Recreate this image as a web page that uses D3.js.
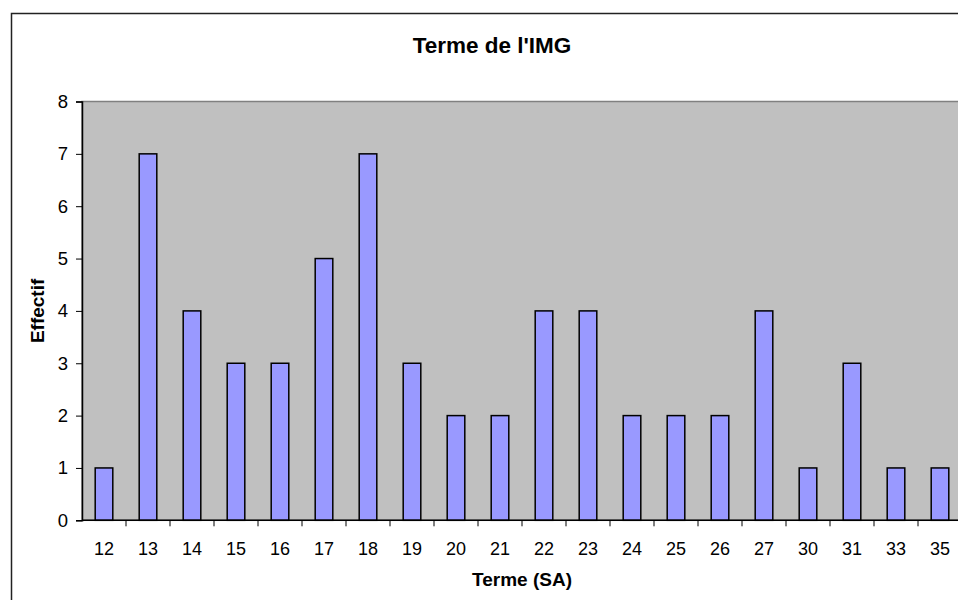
<!DOCTYPE html>
<html>
<head>
<meta charset="utf-8">
<script src="https://cdn.jsdelivr.net/npm/d3@7"></script>
<style>
  body { margin: 0; background: #fff; }
  svg { display: block; font-family: Arial, "Liberation Sans", sans-serif; }
</style>
</head>
<body>
<div id="chart"></div>
<script>
const categories = ["12", "13", "14", "15", "16", "17", "18", "19", "20", "21", "22", "23", "24", "25", "26", "27", "30", "31", "33", "35"];
const effectif = [1, 7, 4, 3, 3, 5, 7, 3, 2, 2, 4, 4, 2, 2, 2, 4, 1, 3, 1, 1];
const yTicks = [0, 1, 2, 3, 4, 5, 6, 7, 8];

const data = categories.map((c, i) => ({ terme: c, value: effectif[i] }));

const width = 958, height = 600;
const margin = { top: 101.5, left: 82, right: -4, bottom: 79.7 };
const plotW = width - margin.left - margin.right;
const plotH = height - margin.top - margin.bottom;

const svg = d3.select("#chart")
    .append("svg")
    .attr("width", width)
    .attr("height", height);

// chart area border (cropped on the right and bottom)
svg.append("rect")
    .attr("x", 11.5)
    .attr("y", 13.5)
    .attr("width", 1000)
    .attr("height", 1000)
    .attr("fill", "none")
    .attr("stroke", "#222")
    .attr("stroke-width", 1.5);

const g = svg.append("g")
    .attr("transform", "translate(" + margin.left + "," + margin.top + ")");

const x = d3.scaleBand()
    .domain(categories)
    .range([0, plotW])
    .paddingInner(0.6)
    .paddingOuter(0.3);

const xBand = d3.scaleBand()
    .domain(categories)
    .range([0, plotW]);

const y = d3.scaleLinear()
    .domain([0, 8])
    .range([plotH, 0]);

// plot background
g.append("rect")
    .attr("width", plotW)
    .attr("height", plotH)
    .attr("fill", "#c0c0c0")
    .attr("stroke", "#808080")
    .attr("stroke-width", 1.5);

g.selectAll(".bar")
    .data(data)
    .enter()
    .append("rect")
    .attr("class", "bar")
    .attr("x", d => x(d.terme))
    .attr("y", d => y(d.value))
    .attr("width", x.bandwidth())
    .attr("height", d => plotH - y(d.value))
    .attr("fill", "#9999ff")
    .attr("stroke", "#000")
    .attr("stroke-width", 1.5);

// x axis: ticks at band boundaries, labels centred in bands
const xAxis = g.append("g")
    .attr("transform", "translate(0," + plotH + ")");

xAxis.append("line")
    .attr("x1", 0).attr("x2", plotW)
    .attr("stroke", "#000").attr("stroke-width", 1.5);

xAxis.selectAll(".xtick")
    .data(categories.slice(1))
    .enter()
    .append("line")
    .attr("class", "xtick")
    .attr("x1", d => xBand(d)).attr("x2", d => xBand(d))
    .attr("y1", 0).attr("y2", 6)
    .attr("stroke", "#000");

xAxis.selectAll(".xlabel")
    .data(categories)
    .enter()
    .append("text")
    .attr("class", "xlabel")
    .attr("x", d => xBand(d) + xBand.bandwidth() / 2)
    .attr("y", 35)
    .attr("text-anchor", "middle")
    .attr("font-size", 18)
    .attr("fill", "#000")
    .text(d => d);

// y axis
const yAxis = g.append("g")
    .call(d3.axisLeft(y).tickValues(yTicks).tickSize(6).tickPadding(8).tickFormat(d3.format("d")));

yAxis.select(".domain").attr("stroke", "#000").attr("stroke-width", 1.5);
yAxis.selectAll(".tick line").attr("stroke", "#000");
yAxis.selectAll(".tick text")
    .attr("font-size", 18.5)
    .attr("font-family", "Arial, 'Liberation Sans', sans-serif")
    .attr("fill", "#000");

// titles
svg.append("text")
    .attr("x", 492)
    .attr("y", 53)
    .attr("text-anchor", "middle")
    .attr("font-size", 22.5)
    .attr("font-weight", "bold")
    .text("Terme de l'IMG");

svg.append("text")
    .attr("x", margin.left + plotW / 2)
    .attr("y", 586)
    .attr("text-anchor", "middle")
    .attr("font-size", 19)
    .attr("font-weight", "bold")
    .text("Terme (SA)");

svg.append("text")
    .attr("transform", "translate(44," + (margin.top + plotH / 2) + ") rotate(-90)")
    .attr("text-anchor", "middle")
    .attr("font-size", 19)
    .attr("font-weight", "bold")
    .text("Effectif");
</script>
</body>
</html>
